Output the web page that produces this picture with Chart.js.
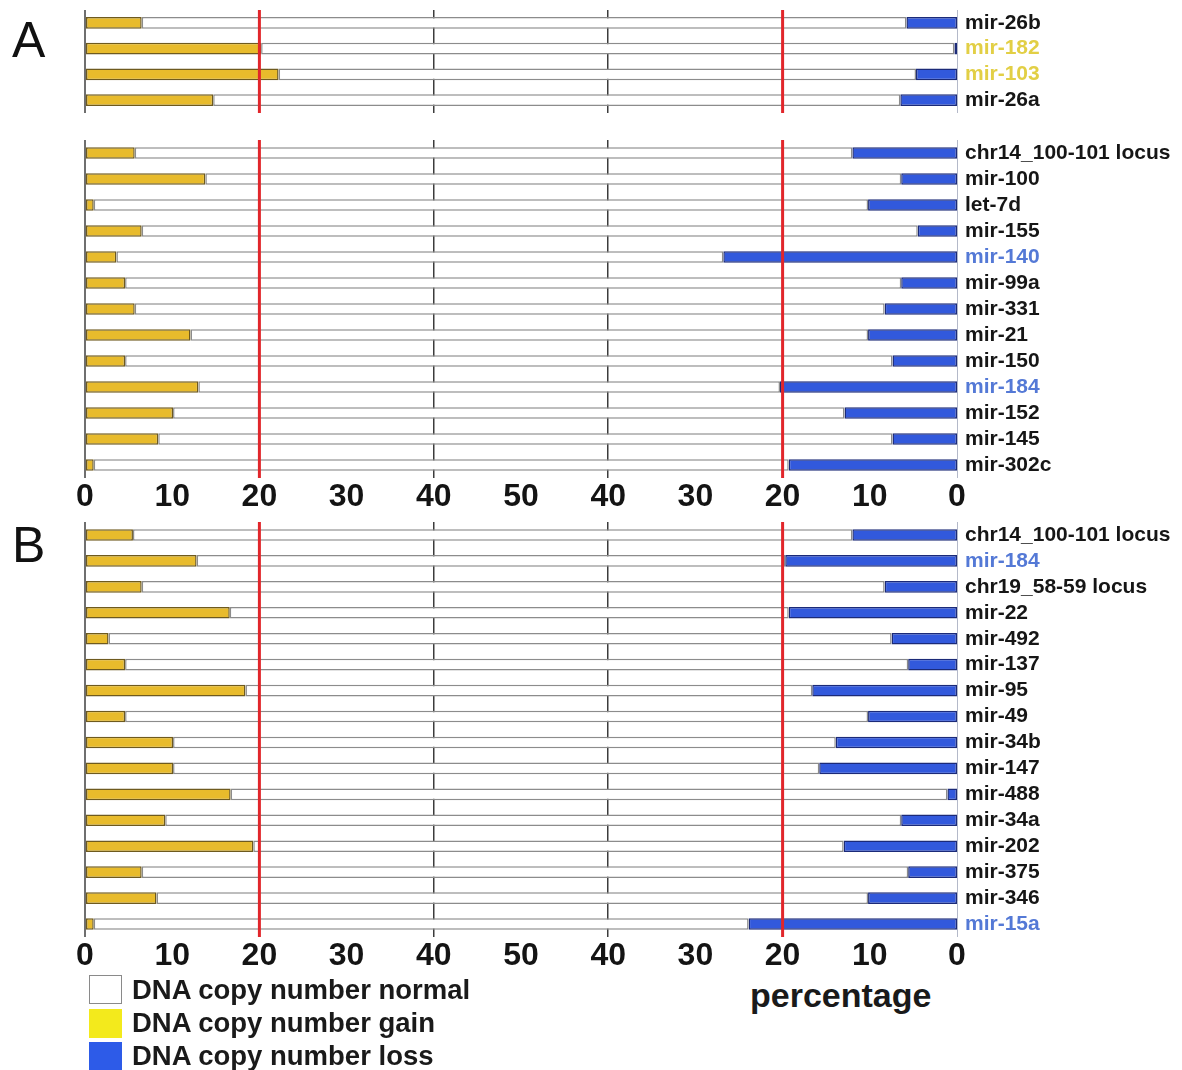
<!DOCTYPE html>
<html>
<head>
<meta charset="utf-8">
<script src="https://cdn.jsdelivr.net/npm/chart.js@4.4.1/dist/chart.umd.min.js"></script>
<style>
  body { margin: 0; background: #fff; width: 1182px; height: 1070px; position: relative; overflow: hidden;
         font-family: "Liberation Sans", Arial, Helvetica, sans-serif; }
  .panel { position: absolute; left: 0; width: 1182px; }
  .letter { position: absolute; left: 12px; font-size: 50px; line-height: 50px; color: #111; z-index: 2; }
  .leg { position: absolute; left: 132px; font-size: 27.5px; line-height: 27px; font-weight: bold; color: #1a1a1a; white-space: nowrap; }
  .sw { position: absolute; left: 89px; width: 33px; height: 29px; box-sizing: border-box; }
  .xtitle { position: absolute; left: 750px; top: 978px; font-size: 34px; line-height: 34px; font-weight: bold; color: #1a1a1a; }
</style>
</head>
<body>
<div class="panel" style="top:0px;height:120px"><canvas id="chartA1"></canvas></div>
<div class="panel" style="top:120px;height:396px"><canvas id="chartA2"></canvas></div>
<div class="panel" style="top:516px;height:459px"><canvas id="chartB"></canvas></div>

<div class="letter" style="top:15px">A</div>
<div class="letter" style="top:520px">B</div>

<div class="sw" style="top:975px;background:#fff;border:1.5px solid #8a8a8a"></div>
<div class="leg" style="top:976px">DNA copy number normal</div>
<div class="sw" style="top:1009px;background:#f3ea1c"></div>
<div class="leg" style="top:1009px">DNA copy number gain</div>
<div class="sw" style="top:1042px;background:#2d5be8"></div>
<div class="leg" style="top:1042px">DNA copy number loss</div>
<div class="xtitle">percentage</div>

<script>
// panel A, upper block
var catsA1 = ['mir-26b', 'mir-182', 'mir-103', 'mir-26a'];
var gainA1 = [6.5, 20.2, 22.2, 14.7];
var lossA1 = [5.8, 0.3, 4.7, 6.5];

// panel A, lower block
var catsA2 = ['chr14_100-101 locus', 'mir-100', 'let-7d', 'mir-155', 'mir-140', 'mir-99a', 'mir-331',
              'mir-21', 'mir-150', 'mir-184', 'mir-152', 'mir-145', 'mir-302c'];
var gainA2 = [5.7, 13.8, 1.0, 6.5, 3.6, 4.6, 5.7, 12.1, 4.6, 13.0, 10.1, 8.4, 1.0];
var lossA2 = [12.0, 6.4, 10.2, 4.5, 26.8, 6.4, 8.3, 10.2, 7.4, 20.3, 12.9, 7.4, 19.3];

// panel B
var catsB = ['chr14_100-101 locus', 'mir-184', 'chr19_58-59 locus', 'mir-22', 'mir-492', 'mir-137', 'mir-95',
             'mir-49', 'mir-34b', 'mir-147', 'mir-488', 'mir-34a', 'mir-202', 'mir-375', 'mir-346', 'mir-15a'];
var gainB = [5.5, 12.8, 6.5, 16.6, 2.7, 4.6, 18.4, 4.6, 10.1, 10.1, 16.7, 9.2, 19.3, 6.5, 8.2, 1.0];
var lossB = [12.0, 19.7, 8.3, 19.3, 7.5, 5.6, 16.6, 10.2, 13.9, 15.8, 1.1, 6.4, 13.0, 5.6, 10.2, 23.9];

// names printed in colour
var gainNames = ['mir-182', 'mir-103'];
var lossNames = ['mir-140', 'mir-184', 'mir-15a'];

// 20% cut-off on both sides
var cutGain = 20;
var cutLoss = 20;

var FONT = '"Liberation Sans", Arial, Helvetica, sans-serif';

function labelColor(name) {
    if (gainNames.includes(name)) return '#e2cf45';
    if (lossNames.includes(name)) return '#5479d6';
    return '#161616';
}

function gridColor(c) {
    var v = c.tick ? c.tick.value : null;
    if (v === 40 || v === 60) return '#3c3c3c';
    if (v === 0) return '#6f6f6f';
    if (v === 100) return '#b4b9c9';
    return 'rgba(0,0,0,0)';
}

function gridWidth(c) {
    var v = c.tick ? c.tick.value : null;
    if (v === 0) return 2;
    if (v === 40 || v === 60) return 1.5;
    return 1;
}

// red threshold lines over the bars
var redLines = {
    id: 'redLines',
    afterDatasetsDraw: function (chart) {
        var ctx = chart.ctx, area = chart.chartArea, x = chart.scales.x;
        ctx.save();
        ctx.strokeStyle = '#e1262b';
        ctx.lineWidth = 3;
        [cutGain, 100 - cutLoss].forEach(function (v) {
            var px = x.getPixelForValue(v);
            ctx.beginPath();
            ctx.moveTo(px, area.top);
            ctx.lineTo(px, area.bottom);
            ctx.stroke();
        });
        ctx.restore();
    }
};

function makePanel(id, cats, gain, loss, showTicks, padTop, axisH) {
    var normal = gain.map(function (g, i) { return 100 - g - loss[i]; });
    return new Chart(document.getElementById(id), {
        type: 'bar',
        data: {
            labels: cats,
            datasets: [
                { label: 'DNA copy number gain', data: gain, backgroundColor: '#e8bb2c',
                  borderColor: '#6e5a1e', borderWidth: 1.5, borderSkipped: false },
                { label: 'DNA copy number normal', data: normal, backgroundColor: '#ffffff',
                  borderColor: '#8c8c8c', borderWidth: 1.5, borderSkipped: false },
                { label: 'DNA copy number loss', data: loss, backgroundColor: '#3259dc',
                  borderColor: '#1b2a78', borderWidth: 1.5, borderSkipped: false }
            ]
        },
        options: {
            indexAxis: 'y',
            responsive: true,
            maintainAspectRatio: false,
            animation: false,
            layout: { padding: { left: 85, right: 0, top: padTop, bottom: showTicks ? 0 : 7 } },
            datasets: { bar: { categoryPercentage: 1, barPercentage: 0.45 } },
            plugins: { legend: { display: false }, tooltip: { enabled: false } },
            scales: {
                x: {
                    stacked: true, min: 0, max: 100,
                    afterFit: function (s) { s.height = axisH; },
                    border: { display: false },
                    grid: { drawTicks: false, color: gridColor, lineWidth: gridWidth },
                    ticks: {
                        display: showTicks, stepSize: 10, autoSkip: false, maxRotation: 0, padding: 0,
                        color: '#141414', font: { family: FONT, size: 32, weight: 'bold' },
                        callback: function (v) { return v <= 50 ? v : 100 - v; }
                    }
                },
                y: {
                    stacked: true, position: 'right',
                    afterFit: function (s) { s.width = 225; s.paddingTop = 0; s.paddingBottom = 0; },
                    grid: { display: false, drawTicks: false },
                    border: { display: false },
                    ticks: {
                        autoSkip: false, padding: 8,
                        font: { family: FONT, size: 21, weight: 'bold' },
                        color: function (c) { return labelColor(cats[c.index]); }
                    }
                }
            }
        },
        plugins: [redLines]
    });
}

makePanel('chartA1', catsA1, gainA1, lossA1, false, 10, 0);
makePanel('chartA2', catsA2, gainA2, lossA2, true, 20, 38);
makePanel('chartB', catsB, gainB, lossB, true, 6, 38);
</script>
</body>
</html>
